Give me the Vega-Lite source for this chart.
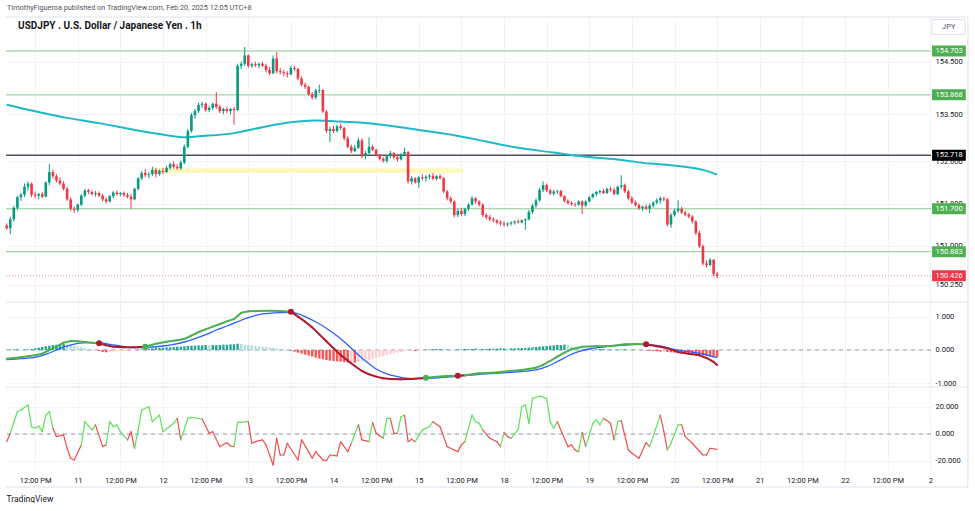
{
"$schema": "https://vega.github.io/schema/vega-lite/v6.json",
"background": "white",
"padding": {"left": 2, "top": 4, "right": 6, "bottom": 0},
"spacing": 0,
"bounds": "flush",
"resolve": {"scale": {"x": "independent", "y": "independent", "color": "independent"}},
"config": {"view": {"stroke": null}, "font": "Roboto", "scale": {"continuousPadding": 0}, "axis": {"labelFont": "Roboto", "titleFont": "Roboto"}, "text": {"font": "Roboto"}},
"datasets": {
"candles": [
{"i":0,"o":151.38,"h":151.42,"l":151.30,"c":151.33},
{"i":1,"o":151.33,"h":151.55,"l":151.22,"c":151.50},
{"i":2,"o":151.50,"h":151.75,"l":151.46,"c":151.72},
{"i":3,"o":151.72,"h":151.95,"l":151.68,"c":151.92},
{"i":4,"o":151.92,"h":152.00,"l":151.85,"c":151.97},
{"i":5,"o":151.97,"h":152.18,"l":151.93,"c":152.12},
{"i":6,"o":152.12,"h":152.22,"l":152.05,"c":152.18},
{"i":7,"o":152.18,"h":152.20,"l":151.92,"c":151.97},
{"i":8,"o":151.97,"h":152.03,"l":151.90,"c":151.95},
{"i":9,"o":151.95,"h":152.00,"l":151.88,"c":151.98},
{"i":10,"o":151.98,"h":152.02,"l":151.90,"c":151.93},
{"i":11,"o":151.93,"h":152.22,"l":151.92,"c":152.20},
{"i":12,"o":152.20,"h":152.55,"l":152.15,"c":152.40},
{"i":13,"o":152.40,"h":152.45,"l":152.28,"c":152.32},
{"i":14,"o":152.32,"h":152.36,"l":152.20,"c":152.24},
{"i":15,"o":152.24,"h":152.30,"l":152.15,"c":152.18},
{"i":16,"o":152.18,"h":152.22,"l":152.05,"c":152.08},
{"i":17,"o":152.08,"h":152.12,"l":151.85,"c":151.88},
{"i":18,"o":151.88,"h":151.92,"l":151.66,"c":151.70},
{"i":19,"o":151.70,"h":151.75,"l":151.62,"c":151.68},
{"i":20,"o":151.68,"h":151.80,"l":151.64,"c":151.78},
{"i":21,"o":151.78,"h":151.98,"l":151.75,"c":151.95},
{"i":22,"o":151.95,"h":152.08,"l":151.92,"c":152.05},
{"i":23,"o":152.05,"h":152.08,"l":151.98,"c":152.02},
{"i":24,"o":152.02,"h":152.05,"l":151.95,"c":151.98},
{"i":25,"o":151.98,"h":152.04,"l":151.93,"c":152.00},
{"i":26,"o":152.00,"h":152.03,"l":151.92,"c":151.95},
{"i":27,"o":151.95,"h":151.98,"l":151.84,"c":151.88},
{"i":28,"o":151.88,"h":151.92,"l":151.80,"c":151.84},
{"i":29,"o":151.84,"h":151.96,"l":151.82,"c":151.94},
{"i":30,"o":151.94,"h":152.04,"l":151.90,"c":152.01},
{"i":31,"o":152.01,"h":152.05,"l":151.95,"c":151.98},
{"i":32,"o":151.98,"h":152.02,"l":151.94,"c":152.00},
{"i":33,"o":152.00,"h":152.03,"l":151.93,"c":151.96},
{"i":34,"o":151.96,"h":152.00,"l":151.90,"c":151.93},
{"i":35,"o":151.93,"h":151.98,"l":151.70,"c":151.88},
{"i":36,"o":151.88,"h":152.10,"l":151.86,"c":152.08},
{"i":37,"o":152.08,"h":152.30,"l":152.05,"c":152.28},
{"i":38,"o":152.28,"h":152.42,"l":152.25,"c":152.38},
{"i":39,"o":152.38,"h":152.46,"l":152.30,"c":152.34},
{"i":40,"o":152.34,"h":152.40,"l":152.28,"c":152.36},
{"i":41,"o":152.36,"h":152.50,"l":152.32,"c":152.44},
{"i":42,"o":152.44,"h":152.48,"l":152.30,"c":152.36},
{"i":43,"o":152.36,"h":152.45,"l":152.33,"c":152.42},
{"i":44,"o":152.42,"h":152.48,"l":152.36,"c":152.40},
{"i":45,"o":152.40,"h":152.52,"l":152.38,"c":152.48},
{"i":46,"o":152.48,"h":152.58,"l":152.44,"c":152.55},
{"i":47,"o":152.55,"h":152.60,"l":152.46,"c":152.50},
{"i":48,"o":152.50,"h":152.55,"l":152.44,"c":152.47},
{"i":49,"o":152.47,"h":152.62,"l":152.44,"c":152.58},
{"i":50,"o":152.58,"h":152.92,"l":152.55,"c":152.88},
{"i":51,"o":152.88,"h":153.22,"l":152.85,"c":153.18},
{"i":52,"o":153.18,"h":153.52,"l":153.15,"c":153.48},
{"i":53,"o":153.48,"h":153.60,"l":153.42,"c":153.56},
{"i":54,"o":153.56,"h":153.72,"l":153.52,"c":153.68},
{"i":55,"o":153.68,"h":153.74,"l":153.62,"c":153.70},
{"i":56,"o":153.70,"h":153.72,"l":153.55,"c":153.58},
{"i":57,"o":153.58,"h":153.66,"l":153.54,"c":153.62},
{"i":58,"o":153.62,"h":153.72,"l":153.58,"c":153.70},
{"i":59,"o":153.70,"h":153.92,"l":153.60,"c":153.64},
{"i":60,"o":153.64,"h":153.68,"l":153.52,"c":153.56},
{"i":61,"o":153.56,"h":153.62,"l":153.50,"c":153.60},
{"i":62,"o":153.60,"h":153.64,"l":153.52,"c":153.56},
{"i":63,"o":153.56,"h":153.62,"l":153.50,"c":153.60},
{"i":64,"o":153.60,"h":153.64,"l":153.30,"c":153.58},
{"i":65,"o":153.58,"h":154.46,"l":153.56,"c":154.42},
{"i":66,"o":154.42,"h":154.50,"l":154.36,"c":154.46},
{"i":67,"o":154.46,"h":154.78,"l":154.42,"c":154.62},
{"i":68,"o":154.62,"h":154.64,"l":154.38,"c":154.42},
{"i":69,"o":154.42,"h":154.48,"l":154.38,"c":154.45},
{"i":70,"o":154.45,"h":154.50,"l":154.40,"c":154.43},
{"i":71,"o":154.43,"h":154.48,"l":154.38,"c":154.46},
{"i":72,"o":154.46,"h":154.50,"l":154.40,"c":154.42},
{"i":73,"o":154.42,"h":154.46,"l":154.30,"c":154.34},
{"i":74,"o":154.34,"h":154.40,"l":154.24,"c":154.28},
{"i":75,"o":154.28,"h":154.62,"l":154.26,"c":154.56},
{"i":76,"o":154.56,"h":154.68,"l":154.28,"c":154.32},
{"i":77,"o":154.32,"h":154.38,"l":154.26,"c":154.30},
{"i":78,"o":154.30,"h":154.34,"l":154.22,"c":154.28},
{"i":79,"o":154.28,"h":154.32,"l":154.20,"c":154.26},
{"i":80,"o":154.26,"h":154.42,"l":154.24,"c":154.38},
{"i":81,"o":154.38,"h":154.42,"l":154.32,"c":154.36},
{"i":82,"o":154.36,"h":154.38,"l":154.14,"c":154.18},
{"i":83,"o":154.18,"h":154.22,"l":154.03,"c":154.06},
{"i":84,"o":154.06,"h":154.10,"l":153.98,"c":154.02},
{"i":85,"o":154.02,"h":154.04,"l":153.85,"c":153.88},
{"i":86,"o":153.88,"h":153.92,"l":153.78,"c":153.82},
{"i":87,"o":153.82,"h":153.98,"l":153.78,"c":153.95},
{"i":88,"o":153.95,"h":154.06,"l":153.90,"c":153.96},
{"i":89,"o":153.96,"h":153.98,"l":153.52,"c":153.55},
{"i":90,"o":153.55,"h":153.58,"l":153.14,"c":153.18},
{"i":91,"o":153.18,"h":153.26,"l":152.97,"c":153.22},
{"i":92,"o":153.22,"h":153.28,"l":153.14,"c":153.18},
{"i":93,"o":153.18,"h":153.30,"l":153.15,"c":153.27},
{"i":94,"o":153.27,"h":153.32,"l":153.20,"c":153.24},
{"i":95,"o":153.24,"h":153.26,"l":153.00,"c":153.04},
{"i":96,"o":153.04,"h":153.08,"l":152.85,"c":152.88},
{"i":97,"o":152.88,"h":152.92,"l":152.76,"c":152.80},
{"i":98,"o":152.80,"h":152.92,"l":152.78,"c":152.86},
{"i":99,"o":152.86,"h":153.05,"l":152.84,"c":153.00},
{"i":100,"o":153.00,"h":153.04,"l":152.66,"c":152.70},
{"i":101,"o":152.70,"h":152.80,"l":152.64,"c":152.76},
{"i":102,"o":152.76,"h":153.06,"l":152.74,"c":152.88},
{"i":103,"o":152.88,"h":152.92,"l":152.80,"c":152.82},
{"i":104,"o":152.82,"h":152.84,"l":152.70,"c":152.72},
{"i":105,"o":152.72,"h":152.74,"l":152.62,"c":152.65},
{"i":106,"o":152.65,"h":152.68,"l":152.58,"c":152.61},
{"i":107,"o":152.61,"h":152.72,"l":152.58,"c":152.70},
{"i":108,"o":152.70,"h":152.80,"l":152.66,"c":152.76},
{"i":109,"o":152.76,"h":152.78,"l":152.64,"c":152.68},
{"i":110,"o":152.68,"h":152.74,"l":152.60,"c":152.64},
{"i":111,"o":152.64,"h":152.76,"l":152.62,"c":152.74},
{"i":112,"o":152.74,"h":152.86,"l":152.70,"c":152.78},
{"i":113,"o":152.78,"h":152.80,"l":152.18,"c":152.22},
{"i":114,"o":152.22,"h":152.32,"l":152.16,"c":152.28},
{"i":115,"o":152.28,"h":152.30,"l":152.18,"c":152.20},
{"i":116,"o":152.20,"h":152.32,"l":152.10,"c":152.30},
{"i":117,"o":152.30,"h":152.36,"l":152.24,"c":152.28},
{"i":118,"o":152.28,"h":152.34,"l":152.22,"c":152.31},
{"i":119,"o":152.31,"h":152.36,"l":152.26,"c":152.33},
{"i":120,"o":152.33,"h":152.38,"l":152.24,"c":152.27},
{"i":121,"o":152.27,"h":152.34,"l":152.24,"c":152.32},
{"i":122,"o":152.32,"h":152.36,"l":152.26,"c":152.28},
{"i":123,"o":152.28,"h":152.30,"l":152.00,"c":152.03},
{"i":124,"o":152.03,"h":152.06,"l":151.86,"c":151.90},
{"i":125,"o":151.90,"h":151.94,"l":151.80,"c":151.84},
{"i":126,"o":151.84,"h":151.86,"l":151.54,"c":151.58},
{"i":127,"o":151.58,"h":151.70,"l":151.54,"c":151.66},
{"i":128,"o":151.66,"h":151.72,"l":151.56,"c":151.60},
{"i":129,"o":151.60,"h":151.72,"l":151.56,"c":151.70},
{"i":130,"o":151.70,"h":151.80,"l":151.66,"c":151.78},
{"i":131,"o":151.78,"h":151.94,"l":151.76,"c":151.90},
{"i":132,"o":151.90,"h":151.92,"l":151.80,"c":151.84},
{"i":133,"o":151.84,"h":151.86,"l":151.74,"c":151.78},
{"i":134,"o":151.78,"h":151.80,"l":151.54,"c":151.58},
{"i":135,"o":151.58,"h":151.62,"l":151.50,"c":151.54},
{"i":136,"o":151.54,"h":151.58,"l":151.46,"c":151.50},
{"i":137,"o":151.50,"h":151.54,"l":151.44,"c":151.48},
{"i":138,"o":151.48,"h":151.50,"l":151.40,"c":151.44},
{"i":139,"o":151.44,"h":151.48,"l":151.38,"c":151.42},
{"i":140,"o":151.42,"h":151.46,"l":151.36,"c":151.40},
{"i":141,"o":151.40,"h":151.44,"l":151.36,"c":151.42},
{"i":142,"o":151.42,"h":151.46,"l":151.38,"c":151.44},
{"i":143,"o":151.44,"h":151.48,"l":151.40,"c":151.46},
{"i":144,"o":151.46,"h":151.50,"l":151.42,"c":151.44},
{"i":145,"o":151.44,"h":151.50,"l":151.42,"c":151.48},
{"i":146,"o":151.48,"h":151.52,"l":151.30,"c":151.50},
{"i":147,"o":151.50,"h":151.68,"l":151.48,"c":151.64},
{"i":148,"o":151.64,"h":151.80,"l":151.60,"c":151.76},
{"i":149,"o":151.76,"h":151.90,"l":151.72,"c":151.86},
{"i":150,"o":151.86,"h":152.10,"l":151.84,"c":152.06},
{"i":151,"o":152.06,"h":152.22,"l":152.02,"c":152.15},
{"i":152,"o":152.15,"h":152.18,"l":152.02,"c":152.05},
{"i":153,"o":152.05,"h":152.08,"l":151.96,"c":151.99},
{"i":154,"o":151.99,"h":152.06,"l":151.95,"c":152.03},
{"i":155,"o":152.03,"h":152.06,"l":151.98,"c":152.04},
{"i":156,"o":152.04,"h":152.06,"l":151.92,"c":151.94},
{"i":157,"o":151.94,"h":151.96,"l":151.82,"c":151.85},
{"i":158,"o":151.85,"h":151.88,"l":151.78,"c":151.81},
{"i":159,"o":151.81,"h":151.84,"l":151.76,"c":151.79},
{"i":160,"o":151.79,"h":151.82,"l":151.74,"c":151.78},
{"i":161,"o":151.78,"h":151.86,"l":151.76,"c":151.84},
{"i":162,"o":151.84,"h":151.86,"l":151.60,"c":151.76},
{"i":163,"o":151.76,"h":151.86,"l":151.74,"c":151.84},
{"i":164,"o":151.84,"h":151.94,"l":151.82,"c":151.92},
{"i":165,"o":151.92,"h":152.00,"l":151.90,"c":151.98},
{"i":166,"o":151.98,"h":152.04,"l":151.94,"c":152.02},
{"i":167,"o":152.02,"h":152.06,"l":151.98,"c":152.04},
{"i":168,"o":152.04,"h":152.08,"l":151.98,"c":152.00},
{"i":169,"o":152.00,"h":152.10,"l":151.98,"c":152.08},
{"i":170,"o":152.08,"h":152.12,"l":152.02,"c":152.06},
{"i":171,"o":152.06,"h":152.10,"l":151.96,"c":151.98},
{"i":172,"o":151.98,"h":152.14,"l":151.96,"c":152.12},
{"i":173,"o":152.12,"h":152.34,"l":152.08,"c":152.15},
{"i":174,"o":152.15,"h":152.18,"l":152.00,"c":152.03},
{"i":175,"o":152.03,"h":152.06,"l":151.86,"c":151.90},
{"i":176,"o":151.90,"h":151.94,"l":151.79,"c":151.82},
{"i":177,"o":151.82,"h":151.86,"l":151.74,"c":151.77},
{"i":178,"o":151.77,"h":151.80,"l":151.68,"c":151.71},
{"i":179,"o":151.71,"h":151.76,"l":151.66,"c":151.74},
{"i":180,"o":151.74,"h":151.78,"l":151.68,"c":151.70},
{"i":181,"o":151.70,"h":151.80,"l":151.62,"c":151.76},
{"i":182,"o":151.76,"h":151.84,"l":151.72,"c":151.82},
{"i":183,"o":151.82,"h":151.90,"l":151.78,"c":151.86},
{"i":184,"o":151.86,"h":151.94,"l":151.80,"c":151.90},
{"i":185,"o":151.90,"h":151.93,"l":151.84,"c":151.88},
{"i":186,"o":151.88,"h":151.90,"l":151.36,"c":151.40},
{"i":187,"o":151.40,"h":151.62,"l":151.34,"c":151.58},
{"i":188,"o":151.58,"h":151.70,"l":151.55,"c":151.66},
{"i":189,"o":151.66,"h":151.86,"l":151.62,"c":151.70},
{"i":190,"o":151.70,"h":151.74,"l":151.60,"c":151.63},
{"i":191,"o":151.63,"h":151.66,"l":151.56,"c":151.59},
{"i":192,"o":151.59,"h":151.62,"l":151.52,"c":151.55},
{"i":193,"o":151.55,"h":151.58,"l":151.42,"c":151.46},
{"i":194,"o":151.46,"h":151.48,"l":151.20,"c":151.24},
{"i":195,"o":151.24,"h":151.28,"l":150.95,"c":150.99},
{"i":196,"o":150.99,"h":151.02,"l":150.62,"c":150.66},
{"i":197,"o":150.66,"h":150.72,"l":150.58,"c":150.63},
{"i":198,"o":150.63,"h":150.76,"l":150.60,"c":150.73},
{"i":199,"o":150.73,"h":150.74,"l":150.42,"c":150.46},
{"i":200,"o":150.46,"h":150.50,"l":150.38,"c":150.426}
],
"sma": [
{"i":0,"v":153.68},{"i":7,"v":153.57},{"i":17,"v":153.43},{"i":26,"v":153.33},{"i":36,"v":153.20},{"i":45,"v":153.10},{"i":50,"v":153.06},{"i":54,"v":153.08},{"i":64,"v":153.14},{"i":69,"v":153.21},{"i":78,"v":153.33},{"i":87,"v":153.38},{"i":91,"v":153.37},{"i":94,"v":153.36},{"i":102,"v":153.33},{"i":116,"v":153.20},{"i":126,"v":153.10},{"i":135,"v":152.98},{"i":144,"v":152.86},{"i":154,"v":152.77},{"i":163,"v":152.69},{"i":173,"v":152.63},{"i":181,"v":152.56},{"i":187,"v":152.53},{"i":196,"v":152.44},{"i":200,"v":152.35}
],
"green": [{"p":154.703},{"p":153.868},{"p":151.7},{"p":150.883}],
"tags": [
{"p":154.703,"t":"154.703","k":"g"},{"p":153.868,"t":"153.868","k":"g"},{"p":152.718,"t":"152.718","k":"b"},{"p":151.7,"t":"151.700","k":"g"},{"p":150.883,"t":"150.883","k":"g"},{"p":150.426,"t":"150.426","k":"r"}
],
"hist": [
{"i":0,"h":0.01},{"i":1,"h":0.01},{"i":2,"h":0.02},{"i":3,"h":0.02},{"i":4,"h":0.01},{"i":5,"h":0.01},{"i":6,"h":0.02},{"i":7,"h":0.03},
{"i":8,"h":0.05},{"i":9,"h":0.07},{"i":10,"h":0.09},{"i":11,"h":0.11},{"i":12,"h":0.13},{"i":13,"h":0.15},{"i":14,"h":0.16},{"i":15,"h":0.17},{"i":16,"h":0.18},
{"i":17,"h":0.16},{"i":18,"h":0.14},{"i":19,"h":0.12},{"i":20,"h":0.10},{"i":21,"h":0.08},{"i":22,"h":0.06},{"i":23,"h":0.04},{"i":24,"h":0.02},{"i":25,"h":0.0},
{"i":26,"h":-0.03},{"i":27,"h":-0.06},{"i":28,"h":-0.07},{"i":29,"h":-0.06},{"i":30,"h":-0.05},{"i":31,"h":-0.04},{"i":32,"h":-0.03},{"i":33,"h":-0.02},
{"i":34,"h":-0.01},{"i":35,"h":-0.01},{"i":36,"h":0.0},{"i":37,"h":0.01},{"i":38,"h":0.02},
{"i":39,"h":0.03},{"i":40,"h":0.04},{"i":41,"h":0.05},{"i":42,"h":0.06},{"i":43,"h":0.06},{"i":44,"h":0.07},{"i":45,"h":0.08},{"i":46,"h":0.08},{"i":47,"h":0.09},{"i":48,"h":0.10},{"i":49,"h":0.10},{"i":50,"h":0.11},
{"i":51,"h":0.12},{"i":52,"h":0.13},{"i":53,"h":0.13},{"i":54,"h":0.14},{"i":55,"h":0.14},{"i":56,"h":0.15},{"i":57,"h":0.14},{"i":58,"h":0.15},{"i":59,"h":0.15},
{"i":60,"h":0.15},{"i":61,"h":0.16},{"i":62,"h":0.16},{"i":63,"h":0.17},{"i":64,"h":0.17},{"i":65,"h":0.19},{"i":66,"h":0.18},
{"i":67,"h":0.16},{"i":68,"h":0.15},{"i":69,"h":0.14},{"i":70,"h":0.12},{"i":71,"h":0.11},{"i":72,"h":0.10},{"i":73,"h":0.09},{"i":74,"h":0.07},{"i":75,"h":0.06},{"i":76,"h":0.05},{"i":77,"h":0.04},{"i":78,"h":0.02},{"i":79,"h":0.01},
{"i":80,"h":-0.02},{"i":81,"h":-0.05},{"i":82,"h":-0.08},{"i":83,"h":-0.11},{"i":84,"h":-0.14},{"i":85,"h":-0.17},{"i":86,"h":-0.20},{"i":87,"h":-0.23},{"i":88,"h":-0.26},{"i":89,"h":-0.28},{"i":90,"h":-0.30},{"i":91,"h":-0.32},{"i":92,"h":-0.33},{"i":93,"h":-0.34},{"i":94,"h":-0.35},{"i":95,"h":-0.36},{"i":96,"h":-0.37},{"i":97,"h":-0.37},{"i":98,"h":-0.38},
{"i":99,"h":-0.36},{"i":100,"h":-0.34},{"i":101,"h":-0.32},{"i":102,"h":-0.30},{"i":103,"h":-0.27},{"i":104,"h":-0.24},{"i":105,"h":-0.21},{"i":106,"h":-0.18},{"i":107,"h":-0.15},{"i":108,"h":-0.12},{"i":109,"h":-0.10},{"i":110,"h":-0.08},{"i":111,"h":-0.06},{"i":112,"h":-0.04},{"i":113,"h":-0.03},{"i":114,"h":-0.02},
{"i":115,"h":-0.03},{"i":116,"h":-0.02},{"i":117,"h":-0.01},
{"i":118,"h":0.01},{"i":119,"h":0.02},{"i":120,"h":0.02},{"i":121,"h":0.03},{"i":122,"h":0.03},{"i":123,"h":0.02},{"i":124,"h":0.02},{"i":125,"h":0.01},{"i":126,"h":0.01},{"i":127,"h":0.02},{"i":128,"h":0.02},{"i":129,"h":0.03},{"i":130,"h":0.03},{"i":131,"h":0.03},{"i":132,"h":0.04},{"i":133,"h":0.03},{"i":134,"h":0.03},{"i":135,"h":0.03},{"i":136,"h":0.04},{"i":137,"h":0.04},{"i":138,"h":0.04},{"i":139,"h":0.05},{"i":140,"h":0.05},{"i":141,"h":0.04},{"i":142,"h":0.05},{"i":143,"h":0.05},{"i":144,"h":0.05},{"i":145,"h":0.06},{"i":146,"h":0.06},
{"i":147,"h":0.07},{"i":148,"h":0.08},{"i":149,"h":0.09},{"i":150,"h":0.10},{"i":151,"h":0.11},{"i":152,"h":0.12},{"i":153,"h":0.13},{"i":154,"h":0.14},{"i":155,"h":0.15},{"i":156,"h":0.15},{"i":157,"h":0.16},
{"i":158,"h":0.14},{"i":159,"h":0.11},{"i":160,"h":0.08},{"i":161,"h":0.06},{"i":162,"h":0.04},
{"i":163,"h":0.03},{"i":164,"h":0.03},{"i":165,"h":0.02},{"i":166,"h":0.02},{"i":167,"h":0.03},{"i":168,"h":0.03},{"i":169,"h":0.02},{"i":170,"h":0.02},{"i":171,"h":0.01},{"i":172,"h":0.01},{"i":173,"h":0.02},{"i":174,"h":0.02},{"i":175,"h":0.01},{"i":176,"h":0.01},{"i":177,"h":0.01},{"i":178,"h":0.0},{"i":179,"h":0.0},{"i":180,"h":-0.01},
{"i":181,"h":-0.02},{"i":182,"h":-0.03},{"i":183,"h":-0.04},{"i":184,"h":-0.05},{"i":185,"h":-0.05},{"i":186,"h":-0.06},{"i":187,"h":-0.07},{"i":188,"h":-0.08},{"i":189,"h":-0.10},{"i":190,"h":-0.11},{"i":191,"h":-0.12},{"i":192,"h":-0.13},
{"i":193,"h":-0.14},{"i":194,"h":-0.15},{"i":195,"h":-0.16},{"i":196,"h":-0.17},{"i":197,"h":-0.18},{"i":198,"h":-0.19},{"i":199,"h":-0.20},{"i":200,"h":-0.21}
],
"sig": [
{"i":0,"v":-0.29},{"i":4,"v":-0.26},{"i":8,"v":-0.22},{"i":10,"v":-0.17},{"i":12,"v":-0.09},{"i":14,"v":0.0},{"i":16,"v":0.09},{"i":18,"v":0.15},{"i":20,"v":0.20},{"i":23,"v":0.22},{"i":26,"v":0.22},{"i":29,"v":0.17},{"i":32,"v":0.12},{"i":35,"v":0.07},{"i":38,"v":0.07},{"i":41,"v":0.09},{"i":44,"v":0.12},{"i":47,"v":0.17},{"i":50,"v":0.24},{"i":53,"v":0.34},{"i":56,"v":0.46},{"i":59,"v":0.60},{"i":62,"v":0.72},{"i":65,"v":0.85},{"i":68,"v":0.97},{"i":71,"v":1.06},{"i":74,"v":1.10},{"i":77,"v":1.12},{"i":80,"v":1.13},{"i":83,"v":1.05},{"i":86,"v":0.90},{"i":89,"v":0.72},{"i":92,"v":0.50},{"i":95,"v":0.25},{"i":98,"v":-0.05},{"i":101,"v":-0.33},{"i":104,"v":-0.57},{"i":107,"v":-0.72},{"i":110,"v":-0.80},{"i":113,"v":-0.85},{"i":116,"v":-0.86},{"i":119,"v":-0.85},{"i":122,"v":-0.83},{"i":127,"v":-0.79},{"i":133,"v":-0.73},{"i":142,"v":-0.67},{"i":149,"v":-0.60},{"i":152,"v":-0.50},{"i":155,"v":-0.35},{"i":158,"v":-0.18},{"i":161,"v":-0.05},{"i":164,"v":0.03},{"i":168,"v":0.09},{"i":172,"v":0.13},{"i":176,"v":0.16},{"i":180,"v":0.17},{"i":184,"v":0.12},{"i":188,"v":0.02},{"i":192,"v":-0.05},{"i":196,"v":-0.12},{"i":200,"v":-0.23}
],
"macd": [
{"i":0,"v":-0.26,"k":"G"},{"i":4,"v":-0.22,"k":"G"},{"i":8,"v":-0.16,"k":"G"},{"i":10,"v":-0.11,"k":"G"},{"i":12,"v":0.0,"k":"G"},{"i":14,"v":0.1,"k":"G"},{"i":16,"v":0.22,"k":"G"},{"i":18,"v":0.27,"k":"G"},{"i":20,"v":0.26,"k":"G"},{"i":22,"v":0.24,"k":"G"},{"i":24,"v":0.22,"k":"G"},
{"i":26,"v":0.20,"k":"R"},{"i":28,"v":0.14,"k":"R"},{"i":30,"v":0.10,"k":"R"},{"i":33,"v":0.08,"k":"R"},{"i":36,"v":0.08,"k":"R"},
{"i":39,"v":0.10,"k":"G"},{"i":42,"v":0.19,"k":"G"},{"i":45,"v":0.25,"k":"G"},{"i":48,"v":0.29,"k":"G"},{"i":50,"v":0.33,"k":"G"},{"i":52,"v":0.43,"k":"G"},{"i":54,"v":0.54,"k":"G"},{"i":56,"v":0.62,"k":"G"},{"i":58,"v":0.70,"k":"G"},{"i":60,"v":0.78,"k":"G"},{"i":62,"v":0.86,"k":"G"},{"i":64,"v":0.93,"k":"G"},{"i":65,"v":1.02,"k":"G"},{"i":66,"v":1.12,"k":"G"},{"i":68,"v":1.16,"k":"G"},{"i":71,"v":1.17,"k":"G"},{"i":74,"v":1.18,"k":"G"},{"i":77,"v":1.17,"k":"G"},
{"i":80,"v":1.15,"k":"R"},{"i":82,"v":1.0,"k":"R"},{"i":84,"v":0.85,"k":"R"},{"i":86,"v":0.68,"k":"R"},{"i":88,"v":0.47,"k":"R"},{"i":90,"v":0.26,"k":"R"},{"i":92,"v":0.05,"k":"R"},{"i":94,"v":-0.15,"k":"R"},{"i":96,"v":-0.32,"k":"R"},{"i":98,"v":-0.48,"k":"R"},{"i":100,"v":-0.63,"k":"R"},{"i":102,"v":-0.73,"k":"R"},{"i":104,"v":-0.80,"k":"R"},{"i":106,"v":-0.85,"k":"R"},{"i":108,"v":-0.87,"k":"R"},{"i":111,"v":-0.88,"k":"R"},{"i":114,"v":-0.87,"k":"R"},
{"i":118,"v":-0.83,"k":"G"},{"i":121,"v":-0.80,"k":"G"},{"i":124,"v":-0.78,"k":"G"},
{"i":127,"v":-0.77,"k":"R"},
{"i":129,"v":-0.76,"k":"G"},{"i":133,"v":-0.70,"k":"G"},{"i":137,"v":-0.68,"k":"G"},{"i":141,"v":-0.64,"k":"G"},{"i":145,"v":-0.60,"k":"G"},{"i":149,"v":-0.53,"k":"G"},{"i":151,"v":-0.45,"k":"G"},{"i":153,"v":-0.33,"k":"G"},{"i":155,"v":-0.20,"k":"G"},{"i":157,"v":-0.08,"k":"G"},{"i":159,"v":0.02,"k":"G"},{"i":162,"v":0.10,"k":"G"},{"i":166,"v":0.11,"k":"G"},{"i":170,"v":0.12,"k":"G"},{"i":174,"v":0.17,"k":"G"},{"i":177,"v":0.18,"k":"G"},
{"i":180,"v":0.17,"k":"R"},{"i":183,"v":0.11,"k":"R"},{"i":186,"v":0.05,"k":"R"},{"i":189,"v":-0.06,"k":"R"},{"i":192,"v":-0.11,"k":"R"},{"i":195,"v":-0.16,"k":"R"},{"i":197,"v":-0.24,"k":"R"},{"i":199,"v":-0.36,"k":"R"},{"i":200,"v":-0.45,"k":"R"}
],
"dots": [
{"i":26,"v":0.2,"k":"R"},{"i":39,"v":0.1,"k":"G"},{"i":80,"v":1.15,"k":"R"},{"i":118,"v":-0.83,"k":"G"},{"i":127,"v":-0.77,"k":"R"},{"i":180,"v":0.17,"k":"R"}
],
"osc": [
{"i":0,"v":-5.7,"q":"R"},{"i":1,"v":0.5,"q":"G"},{"i":3,"v":16.5,"q":"G"},{"i":4,"v":17.8,"q":"G"},{"i":6,"v":21.5,"q":"G"},{"i":7,"v":5.4,"q":"G"},{"i":8,"v":4.2,"q":"G"},{"i":9,"v":5.9,"q":"G"},{"i":10,"v":1.7,"q":"G"},{"i":11,"v":14,"q":"G"},{"i":12,"v":16.5,"q":"G"},{"i":13,"v":4.2,"q":"R"},{"i":14,"v":-2,"q":"R"},{"i":16,"v":-0.7,"q":"R"},{"i":17,"v":-10.6,"q":"R"},{"i":18,"v":-18,"q":"R"},{"i":19,"v":-19.3,"q":"R"},{"i":21,"v":-8.1,"q":"G"},{"i":22,"v":9.1,"q":"G"},{"i":24,"v":3,"q":"G"},{"i":25,"v":6.7,"q":"R"},{"i":27,"v":-9.4,"q":"R"},{"i":28,"v":-8.1,"q":"G"},{"i":29,"v":9.1,"q":"G"},{"i":30,"v":5.4,"q":"G"},{"i":31,"v":6.7,"q":"G"},{"i":32,"v":1.7,"q":"G"},{"i":34,"v":-4.4,"q":"R"},{"i":35,"v":1.7,"q":"R"},{"i":36,"v":-10.6,"q":"G"},{"i":37,"v":3,"q":"G"},{"i":38,"v":17.8,"q":"G"},{"i":40,"v":20.2,"q":"G"},{"i":41,"v":9.1,"q":"G"},{"i":43,"v":14,"q":"G"},{"i":44,"v":1.7,"q":"G"},{"i":47,"v":7.9,"q":"G"},{"i":48,"v":11.6,"q":"R"},{"i":49,"v":-4.4,"q":"G"},{"i":51,"v":11.6,"q":"G"},{"i":52,"v":12.3,"q":"G"},{"i":55,"v":11.1,"q":"R"},{"i":57,"v":0.5,"q":"R"},{"i":58,"v":1.7,"q":"R"},{"i":60,"v":-9.4,"q":"R"},{"i":62,"v":-6.4,"q":"R"},{"i":63,"v":-8.9,"q":"R"},{"i":64,"v":-9.4,"q":"G"},{"i":65,"v":8.6,"q":"G"},{"i":68,"v":9.1,"q":"R"},{"i":69,"v":-6.9,"q":"R"},{"i":70,"v":-5.7,"q":"R"},{"i":72,"v":-4.4,"q":"R"},{"i":73,"v":-8.1,"q":"R"},{"i":75,"v":-23,"q":"R"},{"i":76,"v":-3.2,"q":"R"},{"i":77,"v":-15.6,"q":"R"},{"i":78,"v":-15.6,"q":"R"},{"i":79,"v":-6.9,"q":"R"},{"i":82,"v":-19.3,"q":"R"},{"i":83,"v":-4.4,"q":"R"},{"i":85,"v":-13.1,"q":"R"},{"i":86,"v":-18,"q":"R"},{"i":87,"v":-13.1,"q":"R"},{"i":89,"v":-19.3,"q":"R"},{"i":90,"v":-19.8,"q":"R"},{"i":91,"v":-15.6,"q":"R"},{"i":93,"v":-16.3,"q":"R"},{"i":94,"v":-5.7,"q":"R"},{"i":96,"v":-13.1,"q":"R"},{"i":97,"v":-6.9,"q":"G"},{"i":99,"v":6.7,"q":"R"},{"i":100,"v":-4.4,"q":"R"},{"i":102,"v":-5.7,"q":"G"},{"i":103,"v":8.6,"q":"R"},{"i":104,"v":0.5,"q":"R"},{"i":106,"v":-3.2,"q":"G"},{"i":107,"v":11.6,"q":"G"},{"i":108,"v":11.6,"q":"R"},{"i":109,"v":0.5,"q":"R"},{"i":110,"v":0.5,"q":"G"},{"i":111,"v":12.8,"q":"G"},{"i":112,"v":14,"q":"R"},{"i":113,"v":-5.7,"q":"R"},{"i":114,"v":-3.9,"q":"R"},{"i":115,"v":-5.7,"q":"G"},{"i":117,"v":3,"q":"G"},{"i":119,"v":5.4,"q":"G"},{"i":120,"v":9.1,"q":"R"},{"i":122,"v":5.4,"q":"R"},{"i":124,"v":-9.4,"q":"R"},{"i":126,"v":-11.9,"q":"R"},{"i":127,"v":-13.1,"q":"R"},{"i":128,"v":-8.1,"q":"R"},{"i":129,"v":-5.7,"q":"G"},{"i":131,"v":14,"q":"G"},{"i":132,"v":9.1,"q":"G"},{"i":133,"v":8,"q":"G"},{"i":134,"v":3,"q":"R"},{"i":136,"v":-3.2,"q":"R"},{"i":138,"v":-5.7,"q":"R"},{"i":139,"v":-9.4,"q":"G"},{"i":140,"v":1,"q":"R"},{"i":141,"v":-2,"q":"R"},{"i":142,"v":-3.2,"q":"G"},{"i":144,"v":3.5,"q":"G"},{"i":145,"v":20.2,"q":"G"},{"i":146,"v":21.5,"q":"G"},{"i":147,"v":7.9,"q":"G"},{"i":148,"v":26.4,"q":"G"},{"i":150,"v":28.1,"q":"G"},{"i":152,"v":26.4,"q":"G"},{"i":153,"v":9.1,"q":"G"},{"i":154,"v":4.2,"q":"G"},{"i":155,"v":9.1,"q":"R"},{"i":158,"v":-9.4,"q":"R"},{"i":159,"v":-8.1,"q":"R"},{"i":160,"v":-11.9,"q":"R"},{"i":161,"v":-13.1,"q":"G"},{"i":162,"v":1,"q":"R"},{"i":163,"v":-9.4,"q":"G"},{"i":165,"v":7.9,"q":"G"},{"i":166,"v":10.4,"q":"G"},{"i":167,"v":6.7,"q":"G"},{"i":168,"v":11.6,"q":"R"},{"i":170,"v":7.9,"q":"R"},{"i":171,"v":-4.4,"q":"G"},{"i":172,"v":9.1,"q":"G"},{"i":173,"v":9.9,"q":"R"},{"i":175,"v":-11.9,"q":"R"},{"i":176,"v":-14.3,"q":"R"},{"i":178,"v":-18,"q":"R"},{"i":180,"v":-6.4,"q":"R"},{"i":181,"v":-9.4,"q":"G"},{"i":184,"v":14,"q":"R"},{"i":185,"v":2,"q":"R"},{"i":186,"v":-11.9,"q":"G"},{"i":187,"v":-6.9,"q":"G"},{"i":189,"v":6.7,"q":"G"},{"i":190,"v":6.7,"q":"R"},{"i":191,"v":-2,"q":"R"},{"i":193,"v":-6.9,"q":"R"},{"i":196,"v":-15.6,"q":"R"},{"i":197,"v":-15.6,"q":"R"},{"i":198,"v":-10.6,"q":"R"},{"i":200,"v":-11.4,"q":"R"}
]
},
"vconcat": [
{
"width": 925, "height": 285,
"data": {"values": [{}]},
"layer": [
{"mark": {"type": "rect", "color": "#fff59d", "opacity": 0.7},
 "encoding": {
  "x": {"datum": 41, "type": "quantitative", "scale": {"domain": [-0.2, 260.2], "nice": false, "zero": false, "padding": 0},
        "axis": {"values": [8,20,32,44,56,68,80,92,104,116,128,140,152,164,176,188,200,212,224,236,248,260], "labels": false, "ticks": false, "domain": false, "grid": true, "gridColor": "#f0f3fa", "title": null}},
  "x2": {"datum": 128.5},
  "y": {"datum": 152.38, "type": "quantitative", "scale": {"domain": [149.926, 155.35], "nice": false, "zero": false, "padding": 0},
        "axis": {"orient": "right", "values": [154.5,154,153.5,153,152.6,152.2,151.8,151.4,151,150.6,150.25], "format": ".3f", "ticks": false, "domain": false, "grid": true, "gridColor": "#f0f3fa", "labelPadding": 4, "labelFontSize": 7.5, "labelColor": "#131722", "title": null, "labelFlush": false, "labelOverlap": false, "labelBound": false}},
  "y2": {"datum": 152.47}}},
{"data": {"name": "green"}, "mark": {"type": "rule", "color": "#8bc98d", "strokeWidth": 1},
 "encoding": {"y": {"field": "p", "type": "quantitative"}}},
{"mark": {"type": "rule", "color": "#50535e", "strokeWidth": 1.5},
 "encoding": {"y": {"datum": 152.718, "type": "quantitative"}}},
{"mark": {"type": "rule", "color": "#f23645", "strokeWidth": 1, "strokeDash": [1, 2], "opacity": 0.6},
 "encoding": {"y": {"datum": 150.426, "type": "quantitative"}}},
{"data": {"name": "sma"}, "mark": {"type": "line", "color": "#1fb8c8", "strokeWidth": 2, "interpolate": "monotone"},
 "encoding": {"x": {"field": "i", "type": "quantitative"}, "y": {"field": "v", "type": "quantitative"}}},
{"data": {"name": "candles"}, "mark": {"type": "rule", "strokeWidth": 1},
 "encoding": {"x": {"field": "i", "type": "quantitative"}, "y": {"field": "l", "type": "quantitative"}, "y2": {"field": "h"},
  "color": {"condition": {"test": "datum.c >= datum.o", "value": "#089981"}, "value": "#f23645"}}},
{"data": {"name": "candles"}, "mark": {"type": "bar", "size": 2.6},
 "encoding": {"x": {"field": "i", "type": "quantitative"}, "y": {"field": "o", "type": "quantitative"}, "y2": {"field": "c"},
  "color": {"condition": {"test": "datum.c >= datum.o", "value": "#089981"}, "value": "#f23645"}}},
{"data": {"name": "tags"}, "mark": {"type": "bar", "size": 11, "orient": "horizontal"},
 "encoding": {"x": {"datum": 260.5, "type": "quantitative"}, "x2": {"datum": 270.0}, "y": {"field": "p", "type": "quantitative"},
  "color": {"field": "k", "type": "nominal", "scale": {"domain": ["g", "b", "r"], "range": ["#4caf50", "#000000", "#f23645"]}, "legend": null}}},
{"data": {"name": "tags"}, "mark": {"type": "text", "color": "white", "fontSize": 7.5, "align": "center", "baseline": "middle"},
 "encoding": {"x": {"datum": 265.3, "type": "quantitative"}, "y": {"field": "p", "type": "quantitative"}, "text": {"field": "t"}}},
{"mark": {"type": "bar", "size": 15, "orient": "horizontal", "fill": "white", "stroke": "#e0e3eb", "strokeWidth": 1},
 "encoding": {"x": {"datum": 260.5, "type": "quantitative"}, "x2": {"datum": 269.8}, "y": {"datum": 155.16, "type": "quantitative"}}},
{"mark": {"type": "text", "text": "JPY", "fontSize": 7.5, "color": "#50535e", "align": "center", "baseline": "middle"},
 "encoding": {"x": {"datum": 265.2, "type": "quantitative"}, "y": {"datum": 155.16, "type": "quantitative"}}},
{"mark": {"type": "text", "text": "USDJPY . U.S. Dollar / Japanese Yen . 1h", "fontSize": 10, "fontWeight": "bold", "color": "#131722", "align": "left", "baseline": "middle"},
 "encoding": {"x": {"datum": 3.2, "type": "quantitative"}, "y": {"datum": 155.18, "type": "quantitative"}}},
{"mark": {"type": "text", "text": "TimothyFigueroa published on TradingView.com, Feb 20, 2025 12:05 UTC+8", "fontSize": 7.3, "color": "#50535e", "align": "left", "baseline": "top"},
 "encoding": {"x": {"datum": 0.1, "type": "quantitative"}, "y": {"datum": 155.597, "type": "quantitative"}}},
{"mark": {"type": "rule", "color": "#e0e3eb", "strokeWidth": 1},
 "encoding": {"x": {"datum": -0.2, "type": "quantitative"}, "x2": {"datum": 270.6}, "y": {"datum": 155.35, "type": "quantitative"}}},
{"mark": {"type": "rule", "color": "#e0e3eb", "strokeWidth": 1},
 "encoding": {"x": {"datum": 270.6, "type": "quantitative"}, "y": {"datum": 149.926, "type": "quantitative"}, "y2": {"datum": 155.35}}}
]
},
{
"width": 925, "height": 85,
"data": {"values": [{}]},
"layer": [
{"mark": {"type": "rule", "color": "#9598a1", "strokeWidth": 1, "strokeDash": [4, 4]},
 "encoding": {"y": {"datum": 0, "type": "quantitative", "scale": {"domain": [-1.111, 1.441], "nice": false, "zero": false, "padding": 0},
   "axis": {"orient": "right", "values": [1, 0, -1], "labelExpr": "datum.value < 0 ? '-' + format(-datum.value, '.3f') : format(datum.value, '.3f')", "ticks": false, "domain": false, "grid": true, "gridColor": "#f0f3fa", "labelPadding": 4, "labelFontSize": 7.5, "labelColor": "#131722", "title": null, "labelFlush": false, "labelOverlap": false, "labelBound": false}}}},
{"data": {"name": "hist"},
 "transform": [{"window": [{"op": "lag", "field": "h", "as": "p"}], "sort": [{"field": "i"}]}],
 "mark": {"type": "bar", "size": 2.4},
 "encoding": {"x": {"field": "i", "type": "quantitative", "scale": {"domain": [-0.2, 260.2], "nice": false, "zero": false, "padding": 0},
   "axis": {"values": [8,20,32,44,56,68,80,92,104,116,128,140,152,164,176,188,200,212,224,236,248,260], "labels": false, "ticks": false, "domain": false, "grid": true, "gridColor": "#f0f3fa", "title": null}},
  "y": {"field": "h", "type": "quantitative"}, "y2": {"datum": 0},
  "color": {"condition": [{"test": "datum.h >= 0 && (datum.p == null || datum.h >= datum.p)", "value": "#26a69a"}, {"test": "datum.h >= 0", "value": "#b2dfdb"}, {"test": "datum.h < datum.p", "value": "#ff5252"}], "value": "#ffcdd2"}}},
{"data": {"name": "sig"}, "mark": {"type": "line", "color": "#2962ff", "strokeWidth": 1.3, "interpolate": "monotone"},
 "encoding": {"x": {"field": "i", "type": "quantitative"}, "y": {"field": "v", "type": "quantitative"}}},
{"data": {"name": "macd"},
 "transform": [{"window": [{"op": "lead", "field": "i", "as": "i2"}, {"op": "lead", "field": "v", "as": "v2"}], "sort": [{"field": "i"}]}, {"filter": "datum.i2 != null"}],
 "mark": {"type": "rule", "strokeWidth": 2, "strokeCap": "round"},
 "encoding": {"x": {"field": "i", "type": "quantitative"}, "x2": {"field": "i2"}, "y": {"field": "v", "type": "quantitative"}, "y2": {"field": "v2"},
  "color": {"field": "k", "type": "nominal", "scale": {"domain": ["G", "R"], "range": ["#4caf50", "#b2182b"]}, "legend": null}}},
{"data": {"name": "dots"}, "mark": {"type": "circle", "size": 36, "opacity": 1},
 "encoding": {"x": {"field": "i", "type": "quantitative"}, "y": {"field": "v", "type": "quantitative"},
  "color": {"field": "k", "type": "nominal", "legend": null}}},
{"mark": {"type": "rule", "color": "#e0e3eb", "strokeWidth": 1},
 "encoding": {"x": {"datum": -0.2, "type": "quantitative"}, "x2": {"datum": 270.6}, "y": {"datum": 1.441, "type": "quantitative"}}},
{"mark": {"type": "rule", "color": "#e0e3eb", "strokeWidth": 1},
 "encoding": {"x": {"datum": 270.6, "type": "quantitative"}, "y": {"datum": -1.111, "type": "quantitative"}, "y2": {"datum": 1.441}}}
]
},
{
"width": 925, "height": 83,
"data": {"values": [{}]},
"layer": [
{"mark": {"type": "rule", "color": "#9598a1", "strokeWidth": 1, "strokeDash": [4, 4]},
 "encoding": {"y": {"datum": 0, "type": "quantitative", "scale": {"domain": [-26.7, 34.8], "nice": false, "zero": false, "padding": 0},
   "axis": {"orient": "right", "values": [20, 0, -20], "labelExpr": "datum.value < 0 ? '-' + format(-datum.value, '.3f') : format(datum.value, '.3f')", "ticks": false, "domain": false, "grid": true, "gridColor": "#f0f3fa", "labelPadding": 4, "labelFontSize": 7.5, "labelColor": "#131722", "title": null, "labelFlush": false, "labelOverlap": false, "labelBound": false}}}},
{"data": {"name": "osc"},
 "transform": [{"window": [{"op": "lead", "field": "i", "as": "i2"}, {"op": "lead", "field": "v", "as": "v2"}], "sort": [{"field": "i"}]}, {"filter": "datum.i2 != null"}],
 "mark": {"type": "rule", "strokeWidth": 1.2, "strokeCap": "round"},
 "encoding": {"x": {"field": "i", "type": "quantitative", "scale": {"domain": [-0.2, 260.2], "nice": false, "zero": false, "padding": 0},
   "axis": {"values": [8,20,32,44,56,68,80,92,104,116,128,140,152,164,176,188,200,212,224,236,248,260],
     "labelExpr": "['12:00 PM','11','12:00 PM','12','12:00 PM','13','12:00 PM','14','12:00 PM','15','12:00 PM','18','12:00 PM','19','12:00 PM','20','12:00 PM','21','12:00 PM','22','12:00 PM','2'][round((datum.value - 8) / 12)]",
     "ticks": false, "domain": false, "grid": true, "gridColor": "#f0f3fa", "labelFontSize": 7.5, "labelColor": "#131722", "labelPadding": 6, "labelFlush": false, "labelOverlap": false, "labelBound": false,
     "title": "TradingView", "titleAnchor": "start", "titleAlign": "left", "titleFontSize": 8.5, "titleFontWeight": "normal", "titleColor": "#131722", "titlePadding": 11}},
  "x2": {"field": "i2"}, "y": {"field": "v", "type": "quantitative"}, "y2": {"field": "v2"},
  "color": {"field": "q", "type": "nominal", "scale": {"domain": ["G", "R"], "range": ["#5ee05a", "#ef4f4f"]}, "legend": null}}},
{"mark": {"type": "rule", "color": "#e0e3eb", "strokeWidth": 1},
 "encoding": {"x": {"datum": -0.2, "type": "quantitative"}, "x2": {"datum": 270.6}, "y": {"datum": 34.8, "type": "quantitative"}}},
{"mark": {"type": "rule", "color": "#e0e3eb", "strokeWidth": 1},
 "encoding": {"x": {"datum": -0.2, "type": "quantitative"}, "x2": {"datum": 270.6}, "y": {"datum": -39.3, "type": "quantitative"}}},
{"mark": {"type": "rule", "color": "#e0e3eb", "strokeWidth": 1},
 "encoding": {"x": {"datum": 270.6, "type": "quantitative"}, "y": {"datum": -39.3, "type": "quantitative"}, "y2": {"datum": 34.8}}}
]
}
]
}
